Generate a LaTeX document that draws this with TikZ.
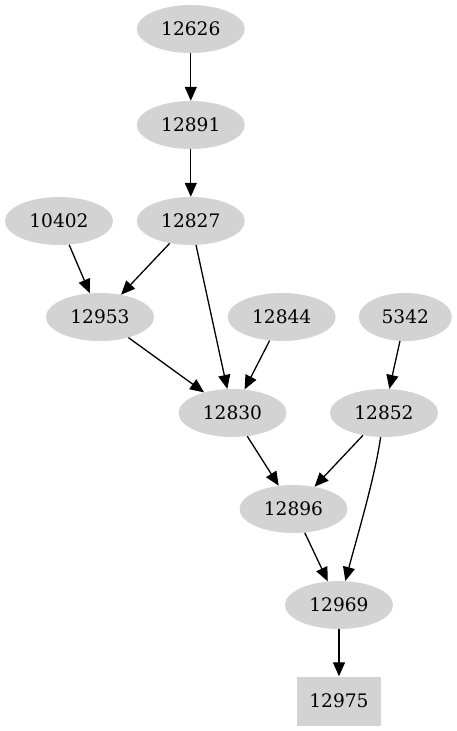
\documentclass[tikz,border=0pt]{standalone}
\usepackage{fontspec}
\setmainfont{DejaVu Serif}
\usetikzlibrary{shapes.geometric,arrows.meta}
\definecolor{lgray}{HTML}{D3D3D3}
\tikzset{
  gnode/.style={ellipse,fill=lgray,draw=none,minimum width=108pt,minimum height=48pt,inner sep=0pt,font=\fontsize{18.6}{22}\selectfont},
  gbox/.style={rectangle,fill=lgray,draw=none,minimum width=84pt,minimum height=49pt,inner sep=0pt,font=\fontsize{18.6}{22}\selectfont},
  edge/.style={line width=1.3pt,-{Triangle[length=14pt,width=12pt]}}
}
\begin{document}
\begin{tikzpicture}[x=1pt,y=-1pt]
\useasboundingbox (0,0) rectangle (457,731);
\node[gnode] (n12626) at (190.8,29) {12626};
\node[gnode] (n12891) at (190.8,125) {12891};
\node[gnode] (n12827) at (190.8,221) {12827};
\node[gnode] (n10402) at (59,221) {10402};
\node[gnode] (n12953) at (100,317) {12953};
\node[gnode] (n12844) at (281.7,317) {12844};
\node[gnode,minimum width=93pt] (n5342) at (405.3,317) {5342};
\node[gnode] (n12830) at (232.5,413) {12830};
\node[gnode] (n12852) at (384,413) {12852};
\node[gnode] (n12896) at (293.5,509) {12896};
\node[gnode] (n12969) at (339,605) {12969};
\node[gbox] (n12975) at (339,701) {12975};
\draw[edge] (n12626) -- (n12891);
\draw[edge] (n12891) -- (n12827);
\draw[edge] (n10402) -- (n12953);
\draw[edge] (n12827) -- (n12953);
\draw[edge] (n12827) -- (n12830);
\draw[edge] (n12953) -- (n12830);
\draw[edge] (n12844) -- (n12830);
\draw[edge] (n5342) -- (n12852);
\draw[edge] (n12830) -- (n12896);
\draw[edge] (n12852) -- (n12896);
\draw[edge] (n12896) -- (n12969);
\draw[edge] (n12852) .. controls (375,477) and (357,537) .. (n12969);
\draw[edge] (n12969) -- (n12975);
\end{tikzpicture}
\end{document}
